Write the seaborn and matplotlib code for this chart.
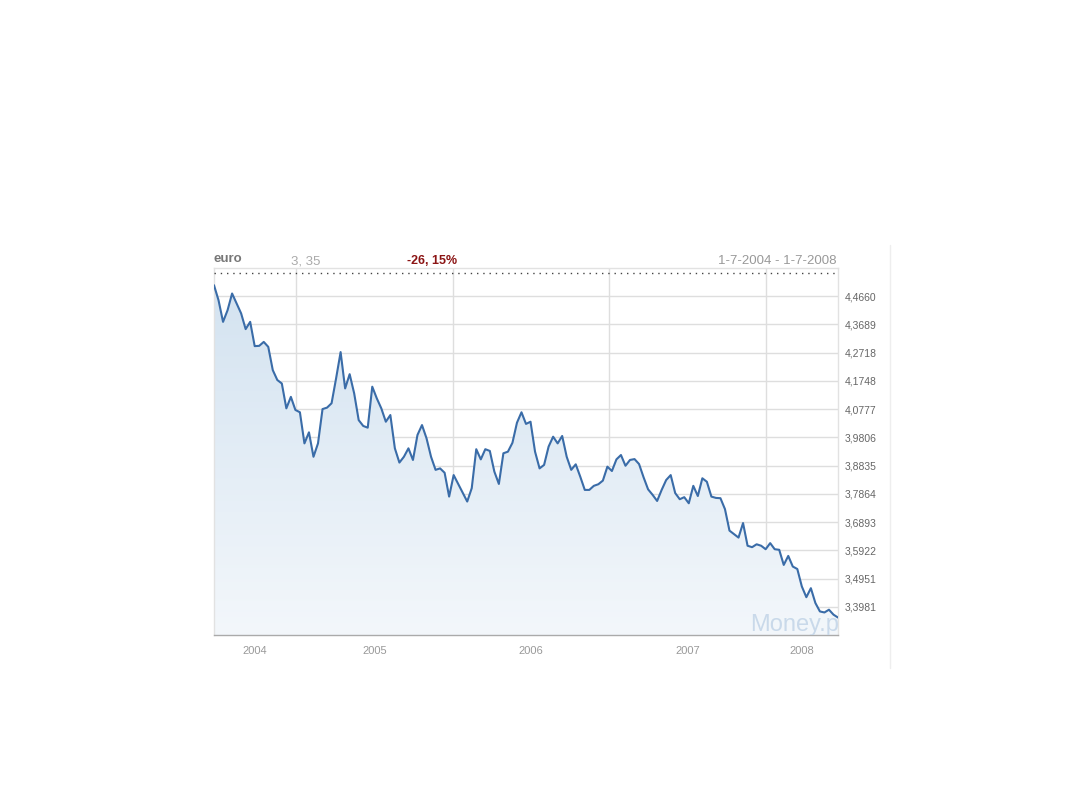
import numpy as np
import pandas as pd
import matplotlib
matplotlib.use("Agg")
import matplotlib.pyplot as plt
import matplotlib.dates as mdates
import seaborn as sns
from matplotlib.colors import LinearSegmentedColormap
from matplotlib.lines import Line2D
from matplotlib.ticker import FixedLocator, NullFormatter, FixedFormatter

# ---------------- data ----------------
rates = [
    4.504, 4.4525, 4.378, 4.418, 4.4755, 4.441, 4.407, 4.353, 4.378, 4.2945,
    4.2955, 4.309, 4.292, 4.212, 4.178, 4.166, 4.0805, 4.120, 4.075, 4.067,
    3.960, 3.998, 3.914, 3.960, 4.078, 4.083, 4.098, 4.1835, 4.274, 4.149,
    4.198, 4.132, 4.040, 4.020, 4.014, 4.155, 4.115, 4.0805, 4.0345, 4.0575,
    3.943, 3.894, 3.914, 3.943, 3.903, 3.989, 4.023, 3.9775, 3.914, 3.869,
    3.874, 3.859, 3.777, 3.851, 3.8205, 3.790, 3.760, 3.806, 3.940, 3.905,
    3.940, 3.934, 3.863, 3.8205, 3.926, 3.9315, 3.962, 4.031, 4.067, 4.027,
    4.0345, 3.9315, 3.874, 3.886, 3.949, 3.983, 3.960, 3.9855, 3.914, 3.869,
    3.888, 3.8455, 3.800, 3.800, 3.814, 3.8195, 3.832, 3.880, 3.865, 3.905,
    3.920, 3.883, 3.903, 3.906, 3.889, 3.8435, 3.802, 3.783, 3.762, 3.800,
    3.834, 3.851, 3.789, 3.768, 3.775, 3.754, 3.814, 3.779, 3.840, 3.828,
    3.777, 3.7725, 3.7715, 3.734, 3.660, 3.648, 3.636, 3.686, 3.608, 3.603,
    3.613, 3.608, 3.596, 3.617, 3.596, 3.594, 3.542, 3.573, 3.5365, 3.528,
    3.468, 3.431, 3.462, 3.411, 3.382, 3.3785, 3.388, 3.371, 3.361,
]
start_date = "2004-06-24"
end_date = "2008-06-17"

ytick_values = [3.3981, 3.4951, 3.5922, 3.6893, 3.7864, 3.8835,
                3.9806, 4.0777, 4.1748, 4.2718, 4.3689, 4.4660]
ytick_labels = ["3,3981", "3,4951", "3,5922", "3,6893", "3,7864", "3,8835",
                "3,9806", "4,0777", "4,1748", "4,2718", "4,3689", "4,4660"]
y_min, y_max = 3.3010, 4.5632
years = [2004, 2005, 2006, 2007, 2008]

title_left = "euro"
title_value = "3, 35"
title_change = "-26, 15%"
title_range = "1-7-2004 - 1-7-2008"
watermark = "Money.pl"

# ---------------- figure ----------------
dates = pd.date_range(start_date, end_date, periods=len(rates))
df = pd.DataFrame({"date": dates, "rate": rates})

sns.set_theme(style="white")
plt.rcParams["font.family"] = ["Liberation Sans", "DejaVu Sans"]

W, H = 1080, 810
fig = plt.figure(figsize=(W / 100, H / 100), dpi=100)
fig.patch.set_facecolor("white")
ax = fig.add_axes([214 / W, 1 - 635 / H, 624 / W, 367 / H])
ax.set_facecolor("white")

# gradient area under the line
poly = ax.fill_between(df["date"], df["rate"], y_min, color="none", lw=0)
clip_path = poly.get_paths()[0]
x0 = mdates.date2num(dates[0])
x1 = mdates.date2num(dates[-1])
grad = np.linspace(0, 1, 256).reshape(-1, 1)
cmap = LinearSegmentedColormap.from_list("g", ["#f3f7fb", "#d2e2f0"])
im = ax.imshow(grad, aspect="auto", cmap=cmap, origin="lower",
               extent=[x0, x1, y_min, y_max], zorder=1, interpolation="bilinear")
im.set_clip_path(clip_path, transform=ax.transData)

sns.lineplot(data=df, x="date", y="rate", color="#3a6ca8", lw=1.5, ax=ax, zorder=4)

ax.set_xlim(x0, x1)
ax.set_ylim(y_min, y_max)

# y axis on the right
ax.yaxis.tick_right()
ax.set_yticks(ytick_values)
ax.set_yticklabels(ytick_labels, fontsize=7.5, color="#666666")
ax.grid(axis="y", color="#dedede", lw=1, zorder=0)

# x axis: gridlines at year starts, labels centred in year spans
bounds = [mdates.date2num(pd.Timestamp(f"{y}-01-01")) for y in years[1:]]
mids = []
for y in years:
    a = max(mdates.date2num(pd.Timestamp(f"{y}-01-01")), x0)
    b = min(mdates.date2num(pd.Timestamp(f"{y + 1}-01-01")), x1)
    mids.append((a + b) / 2)
ax.xaxis.set_major_locator(FixedLocator(bounds))
ax.xaxis.set_major_formatter(NullFormatter())
ax.xaxis.set_minor_locator(FixedLocator(mids))
ax.xaxis.set_minor_formatter(FixedFormatter([str(y) for y in years]))
ax.grid(axis="x", which="major", color="#dedede", lw=1, zorder=0)
ax.grid(axis="x", which="minor", visible=False)
ax.tick_params(axis="x", which="both", length=0, labelsize=8, labelcolor="#999999", pad=8)
ax.tick_params(axis="y", length=0, pad=5)
ax.set_xlabel("")
ax.set_ylabel("")

for side in ["top", "right", "left"]:
    ax.spines[side].set_color("#e2e2e2")
    ax.spines[side].set_linewidth(1)
ax.spines["bottom"].set_color("#aaaaaa")
ax.spines["bottom"].set_linewidth(1)

# dotted header line
ax.plot([0, 1], [0.986, 0.986], transform=ax.transAxes, ls=(0, (1, 3.5)),
        color="#444444", lw=1, zorder=5, clip_on=False)

# watermark
ax.text(0.859, 0.012, watermark, transform=ax.transAxes, ha="left", va="baseline",
        fontsize=17, color="#c9d9ea", zorder=3, clip_on=True)

# header texts
fig.text(214 / W, 1 - 259 / H, title_left, fontsize=9.5, fontweight="bold",
         color="#777777", ha="left", va="center")
fig.text(291 / W, 1 - 261 / H, title_value, fontsize=9.5, color="#aaaaaa",
         ha="left", va="center")
fig.text(432 / W, 1 - 261 / H, title_change, fontsize=9, fontweight="bold",
         color="#8b1414", ha="center", va="center")
fig.text(837 / W, 1 - 261 / H, title_range, fontsize=9.5, color="#999999",
         ha="right", va="center")

# faint frame line on the right of the widget
fig.add_artist(Line2D([890 / W, 890 / W], [1 - 245 / H, 1 - 668 / H],
                      color="#eeeeee", lw=1))

fig.savefig("out.png", dpi=100, facecolor="white")
